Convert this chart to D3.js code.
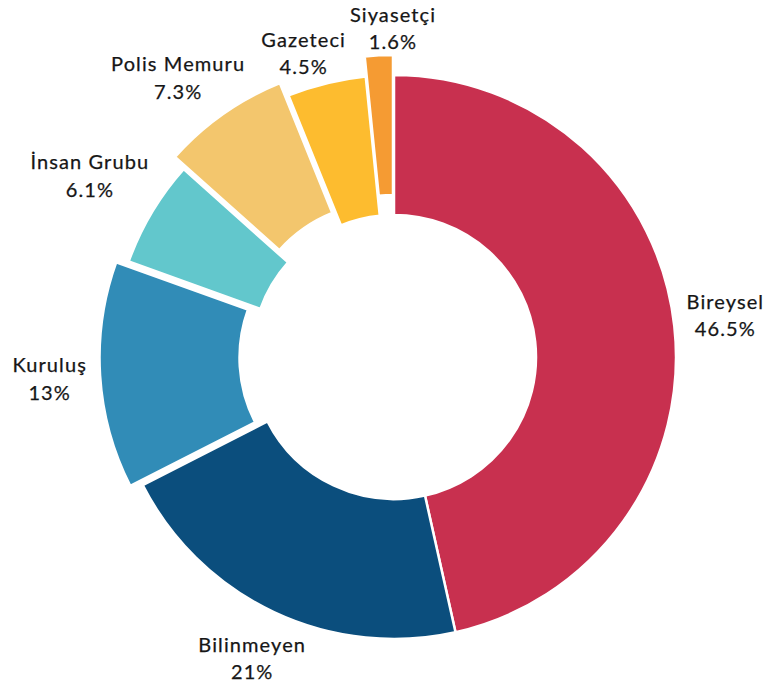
<!DOCTYPE html>
<html>
<head>
<meta charset="utf-8">
<script src="https://cdn.jsdelivr.net/npm/d3@7"></script>
<style>
  html, body { margin: 0; padding: 0; background: #fff; }
  svg { display: block; }
  .lbl { font-family: Lato, "Open Sans", sans-serif; font-size: 20px; fill: #161616; letter-spacing: 1.1px;
         stroke: #161616; stroke-width: 0.25px; }
</style>
</head>
<body>
<svg id="chart" width="769" height="691"></svg>
<script>
// ---- data ----
const categories = ["Bireysel", "Bilinmeyen", "Kuruluş", "İnsan Grubu", "Polis Memuru", "Gazeteci", "Siyasetçi"];
const values = [46.5, 21, 13, 6.1, 7.3, 4.5, 1.6];
const valueLabels = ["46.5%", "21%", "13%", "6.1%", "7.3%", "4.5%", "1.6%"];

// ---- style / layout ----
const colors = ["#C8304F", "#0B4E7D", "#318CB7", "#62C7CC", "#F3C66D", "#FDBC2F", "#F59B33"];
const explode = [0, 0, 12.5, 0, 15, 0, 20];
const labelDist = [334, 333, 345, 354, 353, 317, 329];
const labelAngleNudge = [-0.9, 0, 0, 0, -2.6, -2.7, 2.7]; // degrees

const width = 769, height = 691;
const cx = 394, cy = 357;
const outerR = 282, innerR = 142;

const svg = d3.select("#chart");
const g = svg.append("g").attr("transform", `translate(${cx},${cy})`);

const pie = d3.pie().sort(null).value(d => d).startAngle(0).endAngle(2 * Math.PI);
const arcs = pie(values);
const arc = d3.arc().innerRadius(innerR).outerRadius(outerR);

const dirOf = a => [Math.sin(a), -Math.cos(a)];

g.selectAll("path.slice")
  .data(arcs)
  .join("path")
  .attr("class", "slice")
  .attr("d", arc)
  .attr("fill", (d, i) => colors[i])
  .attr("stroke", "#fff")
  .attr("stroke-width", 2.5)
  .attr("stroke-linejoin", "miter")
  .attr("transform", (d, i) => {
    const [dx, dy] = dirOf((d.startAngle + d.endAngle) / 2);
    return `translate(${dx * explode[i]},${dy * explode[i]})`;
  });

const labels = g.selectAll("text.lbl")
  .data(arcs)
  .join("text")
  .attr("class", "lbl")
  .attr("text-anchor", "middle")
  .attr("transform", (d, i) => {
    const a = (d.startAngle + d.endAngle) / 2 + labelAngleNudge[i] * Math.PI / 180;
    const [dx, dy] = dirOf(a);
    return `translate(${dx * labelDist[i]},${dy * labelDist[i]})`;
  });

labels.append("tspan").attr("x", 0).attr("y", -6.5).text((d, i) => categories[i]);
labels.append("tspan").attr("x", 0).attr("y", 21).text((d, i) => valueLabels[i]);
</script>
</body>
</html>
